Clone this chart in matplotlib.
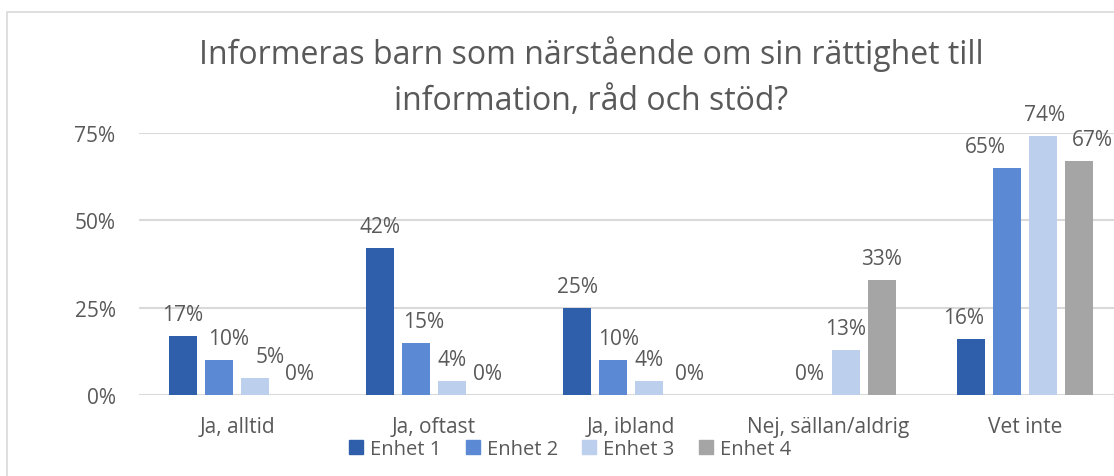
import numpy as np
import matplotlib
matplotlib.use("Agg")
import matplotlib.pyplot as plt
from matplotlib.patches import Rectangle

plt.rcParams['font.family'] = ['Open Sans', 'DejaVu Sans']

title = "Informeras barn som närstående om sin rättighet till\ninformation, råd och stöd?"
categories = ["Ja, alltid", "Ja, oftast", "Ja, ibland", "Nej, sällan/aldrig", "Vet inte"]
series_names = ["Enhet 1", "Enhet 2", "Enhet 3", "Enhet 4"]
enhet1 = [17, 42, 25, np.nan, 16]
enhet2 = [10, 15, 10, 0, 65]
enhet3 = [5, 4, 4, 13, 74]
enhet4 = [0, 0, 0, 33, 67]
yticks = [0, 25, 50, 75]
ytick_labels = ["0%", "25%", "50%", "75%"]

colors = ["#2f5faa", "#5b89d4", "#bcd0ee", "#a5a5a5"]
text_color = "#595959"
grid_color = "#d9d9d9"
# horizontal label nudges in pixels (style only)
label_dx = [
    [0, 0, 0, 0, -7],
    [10, 8, 6, 0, -22],
    [15, 0, 0, 0, 2],
    [9, 0, 5, 0, 13],
]

W, H = 1114, 477
fig = plt.figure(figsize=(W / 100, H / 100), dpi=100)
ax = fig.add_axes([138.5 / W, (H - 396) / H, 985 / W, 262 / H])

# chart border
fig.patches.append(Rectangle((7 / W, -0.1), 1.2, (H - 13) / H + 0.1,
                             transform=fig.transFigure, fill=False,
                             edgecolor="#d9d9d9", linewidth=1.2))

data = [enhet1, enhet2, enhet3, enhet4]
x = np.arange(len(categories))
step = 36 / 197
width = 28 / 197
for i, (vals, c) in enumerate(zip(data, colors)):
    pos = x + (i - 1.5) * step
    ax.bar(pos, vals, width=width, color=c, zorder=3, clip_on=False)
    for j, (p, v) in enumerate(zip(pos, vals)):
        if np.isnan(v):
            continue
        ax.annotate(f"{int(v)}%", (p, v), xytext=(label_dx[i][j], 16),
                    textcoords="offset pixels", ha="center", va="baseline",
                    fontsize=15, color=text_color, annotation_clip=False)

ax.set_xlim(-0.5, len(categories) - 0.5)
ax.set_ylim(0, 75)
ax.set_yticks(yticks)
ax.set_yticklabels(ytick_labels)
ax.set_xticks(x)
ax.set_xticklabels(categories)
ax.tick_params(axis="both", length=0, labelsize=15, labelcolor=text_color)
ax.tick_params(axis="y", pad=16.5)
ax.tick_params(axis="x", pad=15)
ax.yaxis.grid(True, color=grid_color, linewidth=1.5, zorder=0)
for s in ax.spines.values():
    s.set_visible(False)
ax.set_axisbelow(True)

fig.text(591 / W, (H - 77) / H, title, ha="center", va="center",
         fontsize=23, color=text_color, linespacing=1.5)

handles = [Rectangle((0, 0), 1, 1, color=c) for c in colors]
fig.legend(handles, series_names, loc="center", bbox_to_anchor=(570 / W, (H - 450) / H),
           ncol=4, frameon=False, fontsize=14.5, labelcolor=text_color,
           handlelength=0.7, handleheight=0.7, handletextpad=0.35, columnspacing=1.2,
           borderaxespad=0, borderpad=0)

fig.savefig("out.png", dpi=100)
